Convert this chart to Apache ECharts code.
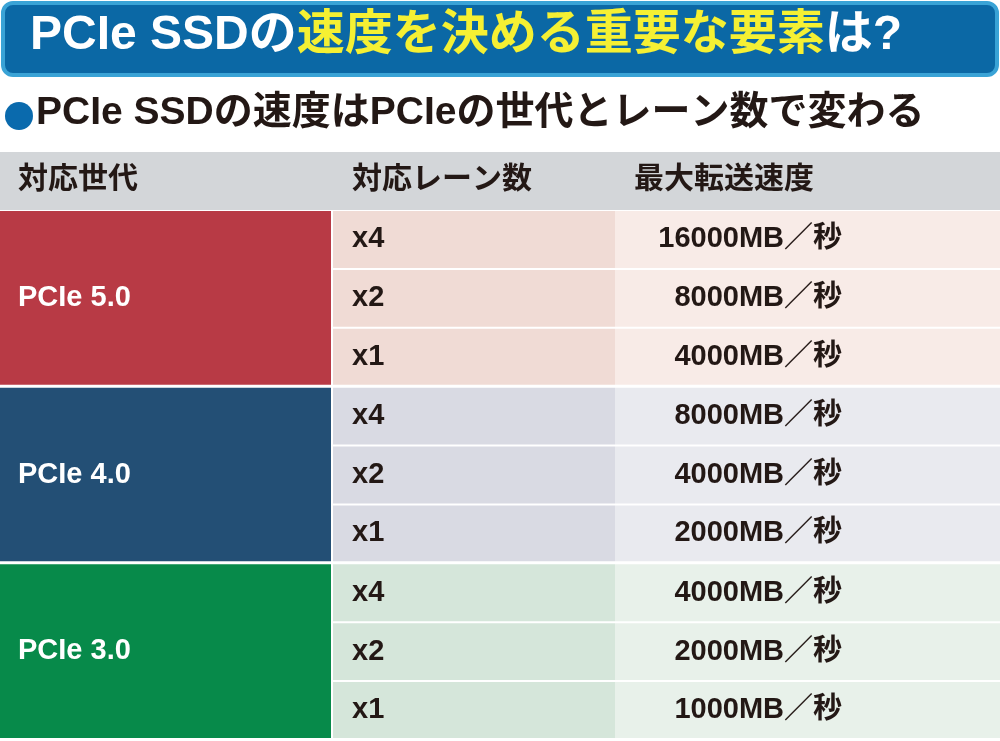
<!DOCTYPE html><html><head><meta charset="utf-8"><script src="https://cdn.jsdelivr.net/npm/echarts@6/dist/echarts.min.js"></script>
<style>html,body{margin:0;padding:0;background:#fff}#c{width:1000px;height:741px}</style></head><body><div id="c"></div><script>
const generations=['PCIe 5.0','PCIe 4.0','PCIe 3.0'];
const lanes=['x4','x2','x1','x4','x2','x1','x4','x2','x1'];
const speeds=['16000MB／秒','8000MB／秒','4000MB／秒','8000MB／秒','4000MB／秒','2000MB／秒','4000MB／秒','2000MB／秒','1000MB／秒'];
const headers=['対応世代','対応レーン数','最大転送速度'];
const genColors=['#b83a45','#234f75','#078a4a'];
const c2=['#f0dbd5','#d9dae3','#d5e6da'];
const c3=['#f8ebe7','#e9eaef','#e8f1ea'];
const F='"Liberation Sans","Noto Sans CJK JP",sans-serif';
const data=lanes.map((l,i)=>[i,l,speeds[i]]);
const chart=echarts.init(document.getElementById('c'));
chart.setOption({
animation:false,
grid:{left:0,right:0,top:211,bottom:0},
xAxis:{type:'value',min:0,max:1000,show:false},
yAxis:{type:'value',min:0,max:9,inverse:true,show:false},
graphic:[
{type:'rect',shape:{x:3,y:3,width:994,height:72,r:10},style:{fill:'#0b68a5',stroke:'#3aa3d6',lineWidth:4}},
{type:'text',left:30,top:12,style:{text:'{w|PCIe SSDの}{y|速度を決める重要な要素}{w|は?}',rich:{w:{fill:'#fff',fontSize:48,fontWeight:'bold',fontFamily:F},y:{fill:'#f5f033',fontSize:48,fontWeight:'bold',fontFamily:F}}}},
{type:'circle',shape:{cx:19,cy:116,r:14},style:{fill:'#0a6aad'}},
{type:'text',left:36,top:94,style:{text:'PCIe SSDの速度はPCIeの世代とレーン数で変わる',fill:'#231815',fontSize:39,fontWeight:'bold',fontFamily:F}},
{type:'rect',shape:{x:0,y:152,width:1000,height:58},style:{fill:'#d3d6d9'}},
{type:'text',left:18,top:165,style:{text:headers[0],fill:'#231815',fontSize:30,fontWeight:'bold',fontFamily:F}},
{type:'text',left:352,top:165,style:{text:headers[1],fill:'#231815',fontSize:30,fontWeight:'bold',fontFamily:F}},
{type:'text',left:634,top:165,style:{text:headers[2],fill:'#231815',fontSize:30,fontWeight:'bold',fontFamily:F}}
],
series:[{
type:'custom',data:data,
renderItem:function(params,api){
const i=api.value(0),g=Math.floor(i/3);
const p0=api.coord([0,i]),p1=api.coord([333,i+1]),p2=api.coord([615,i+1]),p3=api.coord([1000,i+1]);
const gap=(i%3===2)?3:2;
const ch=[
{type:'rect',shape:{x:p1[0],y:p0[1],width:p2[0]-p1[0],height:p1[1]-p0[1]-gap},style:{fill:c2[g]}},
{type:'rect',shape:{x:p2[0],y:p0[1],width:p3[0]-p2[0],height:p1[1]-p0[1]-gap},style:{fill:c3[g]}},
{type:'text',style:{x:p1[0]+19,y:(p0[1]+p1[1]-gap)/2,text:lanes[i],fill:'#231815',fontSize:29,fontWeight:'bold',fontFamily:F,verticalAlign:'middle'}},
{type:'text',style:{x:842,y:(p0[1]+p1[1]-gap)/2,text:speeds[i],fill:'#231815',fontSize:29,fontWeight:'bold',fontFamily:F,align:'right',verticalAlign:'middle'}}
];
if(i%3===0){
const pe=api.coord([333,i+3]);
ch.push({type:'rect',shape:{x:0,y:p0[1],width:pe[0]-2,height:pe[1]-p0[1]-3},style:{fill:genColors[g]}});
ch.push({type:'text',style:{x:18,y:(p0[1]+pe[1]-3)/2,text:generations[g],fill:'#fff',fontSize:29,fontWeight:'bold',fontFamily:F,verticalAlign:'middle'}});
}
return {type:'group',children:ch};
}
}]
});
</script></body></html>
